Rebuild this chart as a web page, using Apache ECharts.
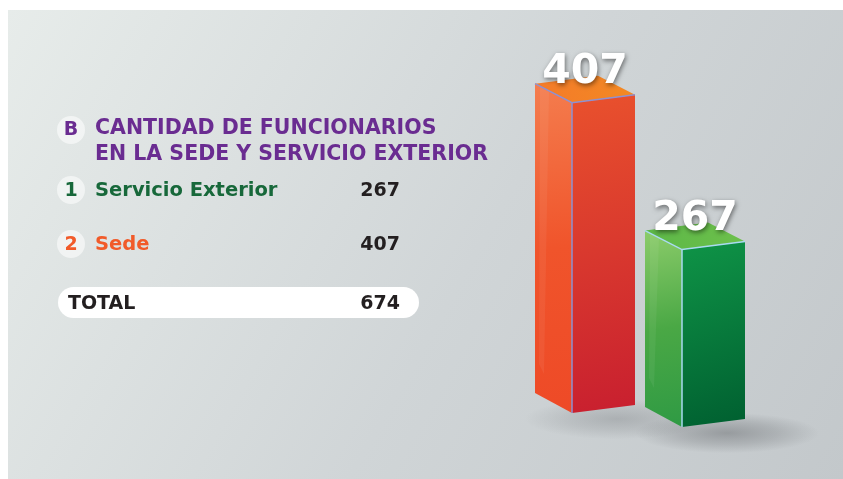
<!DOCTYPE html>
<html>
<head>
<meta charset="utf-8">
<style>
  html, body { margin: 0; padding: 0; background: #ffffff; }
  #chart { width: 843px; height: 479px; }
</style>
<script src="https://cdn.jsdelivr.net/npm/echarts@6/dist/echarts.min.js"></script>
</head>
<body>
<div id="chart"></div>
<script>
// Funcionarios por lugar de trabajo
const barCategories = ['Sede', 'Servicio Exterior'];
const barValues = [407, 267];
const listCategories = ['Servicio Exterior', 'Sede'];
const listValues = [267, 407];
const listMarkers = ['1', '2'];
const titleLines = ['CANTIDAD DE FUNCIONARIOS', 'EN LA SEDE Y SERVICIO EXTERIOR'];
const titleMarker = 'B';
const totalLabel = 'TOTAL';

const FONT = '"DejaVu Sans", Inter, sans-serif';
const PURPLE = '#6a2c91';
const LIST_COLORS = ['#17683a', '#f15a29'];

// prism styling per bar
const prismStyles = [
  {
    left: ['#f47d4e', '#f0542b', '#ee4a27'],
    right: ['#e9512d', '#c81f2f'],
    top: ['#f47a2a', '#f38a22'],
    edge: '#8e91d2',
    drop: 0,
    shadow: 0.26
  },
  {
    left: ['#8ccc6a', '#4aa845', '#2f9a44'],
    right: ['#0f9447', '#005f30'],
    top: ['#5cb848', '#6dc04b'],
    edge: '#a9daf2',
    drop: 14,
    shadow: 0.42
  }
];

const LW = 37, LDY = 19, RW = 63, RDY = 8;

function renderPrism(params, api) {
  const idx = api.value(0);
  const val = api.value(1);
  const st = prismStyles[idx];
  const top = api.coord([idx, val]);
  const base = api.coord([idx, 80]);
  const fx = top[0];
  const ty = top[1] + st.drop;
  const by = base[1] + st.drop;

  const leftFace = [[fx - LW, ty - LDY], [fx, ty], [fx, by], [fx - LW, by - LDY - 1]];
  const rightFace = [[fx, ty], [fx + RW, ty - RDY], [fx + RW, by - RDY], [fx, by]];
  const topFace = [[fx - LW, ty - LDY], [fx, ty], [fx + RW, ty - RDY], [fx + RW - LW, ty - RDY - LDY]];

  const lin = (x, y, x2, y2, stops) => ({
    type: 'linear', x: x, y: y, x2: x2, y2: y2,
    colorStops: stops.map((c, i) => ({ offset: i / (stops.length - 1), color: c }))
  });

  return {
    type: 'group',
    children: [
      {
        // soft ground shadow cast to the lower right (a squashed radial disc)
        type: 'circle',
        x: fx + 45,
        y: by + 6,
        scaleY: 0.22,
        shape: { cx: 0, cy: 0, r: 92 },
        style: {
          fill: {
            type: 'radial', x: 0.5, y: 0.5, r: 0.5,
            colorStops: [
              { offset: 0, color: 'rgba(85,88,92,' + st.shadow + ')' },
              { offset: 0.55, color: 'rgba(85,88,92,' + (st.shadow * 0.5) + ')' },
              { offset: 1, color: 'rgba(85,88,92,0)' }
            ]
          }
        },
        silent: true
      },
      {
        type: 'polygon',
        shape: { points: leftFace },
        style: { fill: lin(0, 0, 1, 1, st.left) }
      },
      {
        // faint sheen on the left face
        type: 'polygon',
        shape: { points: [[fx - LW + 5, ty - LDY + 3], [fx - LW + 14, ty - LDY + 8], [fx - LW + 9, by - LDY - 20], [fx - LW + 4, by - LDY - 30]] },
        style: { fill: 'rgba(255,255,255,0.06)' }
      },
      {
        type: 'polygon',
        shape: { points: rightFace },
        style: { fill: lin(0, 0, 1, 1, st.right) }
      },
      {
        type: 'polygon',
        shape: { points: topFace },
        style: { fill: lin(0, 1, 1, 0, st.top) }
      },
      {
        type: 'polyline',
        shape: { points: [[fx - LW, ty - LDY], [fx, ty], [fx + RW, ty - RDY]] },
        style: { stroke: st.edge, lineWidth: 1.5, fill: null }
      },
      {
        type: 'line',
        shape: { x1: fx, y1: ty, x2: fx, y2: by },
        style: { stroke: st.edge, lineWidth: 1.5 }
      },
      {
        type: 'text',
        x: fx + 13,
        y: ty - 10,
        style: {
          text: String(val),
          fill: '#ffffff',
          font: 'bold 41px ' + FONT,
          align: 'center',
          verticalAlign: 'bottom',
          textShadowColor: 'rgba(0,0,0,0.5)',
          textShadowBlur: 5,
          textShadowOffsetX: 1,
          textShadowOffsetY: 2
        },
        z2: 10
      }
    ]
  };
}

// left-hand listing (y values are cap-height centres)
const graphics = [
  {
    type: 'rect',
    shape: { x: 8, y: 10, width: 835, height: 469 },
    style: {
      fill: {
        type: 'linear', x: 0, y: 0, x2: 1, y2: 1,
        colorStops: [
          { offset: 0, color: '#e7ecea' },
          { offset: 0.55, color: '#d0d5d7' },
          { offset: 1, color: '#c3c8cb' }
        ]
      }
    },
    z: -10,
    silent: true
  },
  {
    type: 'circle',
    shape: { cx: 71, cy: 130, r: 14 },
    style: { fill: 'rgba(255,255,255,0.55)' }
  },
  {
    type: 'text', x: 71, y: 130,
    style: { text: titleMarker, fill: PURPLE, font: 'bold 19px ' + FONT, align: 'center', verticalAlign: 'middle' }
  },
  {
    type: 'text', x: 95, y: 129,
    style: { text: titleLines[0], fill: PURPLE, font: 'bold 20.5px ' + FONT, verticalAlign: 'middle' }
  },
  {
    type: 'text', x: 95, y: 154.5,
    style: { text: titleLines[1], fill: PURPLE, font: 'bold 20.5px ' + FONT, verticalAlign: 'middle' }
  }
];

const rowY = [191, 245];
listCategories.forEach((name, i) => {
  graphics.push(
    {
      type: 'circle',
      shape: { cx: 71, cy: rowY[i] - 1, r: 14 },
      style: { fill: 'rgba(255,255,255,0.55)' }
    },
    {
      type: 'text', x: 71, y: rowY[i],
      style: { text: listMarkers[i], fill: LIST_COLORS[i], font: 'bold 19px ' + FONT, align: 'center', verticalAlign: 'middle' }
    },
    {
      type: 'text', x: 95, y: rowY[i],
      style: { text: name, fill: LIST_COLORS[i], font: 'bold 19.5px ' + FONT, verticalAlign: 'middle' }
    },
    {
      type: 'text', x: 400, y: rowY[i],
      style: { text: String(listValues[i]), fill: '#231f20', font: 'bold 19px ' + FONT, align: 'right', verticalAlign: 'middle' }
    }
  );
});

const total = listValues.reduce((a, b) => a + b, 0);
graphics.push(
  {
    type: 'rect',
    shape: { x: 58, y: 287, width: 361, height: 31, r: 15.5 },
    style: { fill: '#ffffff' }
  },
  {
    type: 'text', x: 68, y: 304,
    style: { text: totalLabel, fill: '#231f20', font: 'bold 19px ' + FONT, verticalAlign: 'middle' }
  },
  {
    type: 'text', x: 400, y: 304,
    style: { text: String(total), fill: '#231f20', font: 'bold 19px ' + FONT, align: 'right', verticalAlign: 'middle' }
  }
);

const chart = echarts.init(document.getElementById('chart'), null, { renderer: 'canvas' });
chart.setOption({
  animation: false,
  backgroundColor: 'transparent',
  grid: { left: 517, right: 106, top: 60, bottom: 66 },
  xAxis: {
    type: 'category',
    data: barCategories,
    show: false,
    boundaryGap: true
  },
  yAxis: {
    type: 'value',
    min: 80,
    max: 452,
    show: false
  },
  graphic: graphics,
  series: [
    {
      type: 'custom',
      renderItem: renderPrism,
      encode: { x: 0, y: 1 },
      data: barValues.map((v, i) => [i, v]),
      clip: false
    }
  ]
});
</script>
</body>
</html>
